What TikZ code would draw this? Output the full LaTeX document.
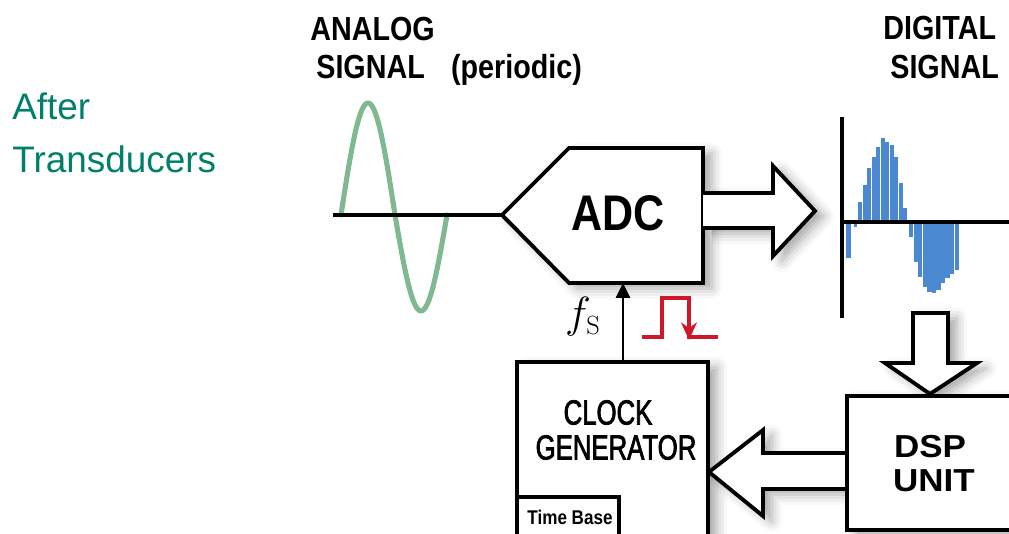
\documentclass[tikz,border=0pt]{standalone}
\usepackage{fontspec}
\newfontfamily\plainsf{Liberation Sans}
\newfontfamily\narrowsf[FakeStretch=0.86]{Liberation Sans}
\newfontfamily\slimsf[FakeStretch=0.74,FakeBold=2]{Liberation Sans}
\newfontfamily\widesf[FakeStretch=1.1]{Liberation Sans}
\usetikzlibrary{arrows.meta,shadows.blur}
\definecolor{wavegreen}{RGB}{128,184,144}
\definecolor{sampleblue}{RGB}{74,136,210}
\definecolor{pulsered}{RGB}{204,24,40}
\definecolor{titlegreen}{RGB}{0,128,106}
\tikzset{
  outline/.style={draw=black, line width=2.2pt, fill=white, line join=miter,
    blur shadow={shadow xshift=5pt, shadow yshift=-3pt, shadow blur radius=6pt, shadow opacity=35}},
  innerbox/.style={draw=black, line width=2.2pt, fill=white},
  axis/.style={draw=black, line width=2.1pt},
  wave/.style={draw=wavegreen, line width=2.9pt, line cap=round, line join=round},
  sample/.style={fill=sampleblue},
  pulse/.style={draw=pulsered, line width=1.8pt},
  feed/.style={draw=black, line width=1.6pt, -{Triangle[width=8pt,length=8.5pt]}},
  heading/.style={inner sep=0pt, anchor=base west, font=\narrowsf\bfseries\fontsize{19}{22}\selectfont}
}
\begin{document}
\begin{tikzpicture}[x=0.02cm, y=-0.02cm]
\useasboundingbox (0,0) rectangle (1009,534);
\clip (0,0) rectangle (1009,534);
% analog input
\coordinate (axisL) at (333,215);
\coordinate (adcin) at (502,215);
\draw[wave] plot[domain=0:180, samples=40] ({341+54*\x/180},{215-112*sin(\x)})
  -- plot[domain=0:180, samples=40] ({395+52*\x/180},{215+96*sin(\x)});
\draw[axis] (axisL) -- (adcin);
% converter
\coordinate (adcS) at (623,283);
\filldraw[outline] (adcin) -- (569,148) -- (703,148) -- (703,283) -- (569,283) -- cycle;
\filldraw[outline] (703,193) -- (773,193) -- (773,166) -- (815,211) -- (773,256) -- (773,228) -- (703,228);
% sampled output
\foreach \i/\t in {0/202,1/185,2/168,3/157,4/147,5/138,6/142,7/145,8/157,9/183,10/208}
  \fill[sample] ({858+4.5*\i},222) rectangle ({862.3+4.5*\i},\t);
\foreach \i/\b in {0/237,1/262,2/277,3/287,4/292,5/293,6/290,7/283,8/278,9/274,10/270}
  \fill[sample] ({909+4.55*\i},222) rectangle ({913.3+4.55*\i},\b);
\fill[sample] (846,222) rectangle (851,258);
\fill[sample] (854,222) rectangle (857,227);
\draw[axis] (842,117) -- (842,318);
\draw[axis] (842,222) -- (1009,222);
% clock
\coordinate (clktop) at (623,362);
\filldraw[outline] (517,362) rectangle (708,560);
\filldraw[innerbox] (517,497) rectangle (619,560);
\draw[feed] (clktop) -- (adcS);
\draw[pulse] (642,337) -| (662,298) -| (689,337) -- (718,337);
\draw[pulse, -{Stealth[width=9pt,length=10pt]}] (689,310) -- (689,340);
% dsp
\filldraw[outline] (848,453) -- (763,453) -- (763,430) -- (709,472) -- (763,516) -- (763,489) -- (848,489);
\filldraw[outline] (913,313) -- (913,363) -- (885,363) -- (930,394) -- (977,363) -- (948,363) -- (948,313) -- cycle;
\filldraw[outline] (847,396) rectangle (1040,530);
% labels
\node[heading] (analog) at (310,40) {ANALOG};
\node[heading] (periodic) at (316,78) {SIGNAL\hspace{15pt}(periodic)};
\node[heading] (digital) at (883,39) {DIGITAL};
\node[heading] (digsig) at (890,78) {SIGNAL};
\node[inner sep=0pt, anchor=base west, text=titlegreen, font=\plainsf\fontsize{21}{25}\selectfont] (after) at (12,119) {After};
\node[inner sep=0pt, anchor=base west, text=titlegreen, font=\plainsf\fontsize{21}{25}\selectfont] (transd) at (12,173) {Transducers};
\node[inner sep=0pt, font=\narrowsf\bfseries\fontsize{28.5}{30}\selectfont] (adc) at (618,213) {ADC};
\node[inner sep=0pt, font=\slimsf\fontsize{19.8}{22}\selectfont] (clock) at (608,412.5) {CLOCK};
\node[inner sep=0pt, font=\slimsf\fontsize{19.8}{22}\selectfont] (gen) at (616,447.5) {GENERATOR};
\node[inner sep=0pt, font=\narrowsf\bfseries\fontsize{11.3}{13}\selectfont] (tbase) at (570,517) {Time Base};
\node[inner sep=0pt, font=\widesf\bfseries\fontsize{18.1}{20}\selectfont] (dsp) at (930,447) {DSP};
\node[inner sep=0pt, font=\widesf\bfseries\fontsize{18.1}{20}\selectfont] (unit) at (934,481) {UNIT};
\node[inner sep=0pt, anchor=east, font=\fontsize{30}{32}\selectfont] (fs) at (601,317) {$f_{\scriptscriptstyle\mathrm{S}}$};
\end{tikzpicture}
\end{document}
